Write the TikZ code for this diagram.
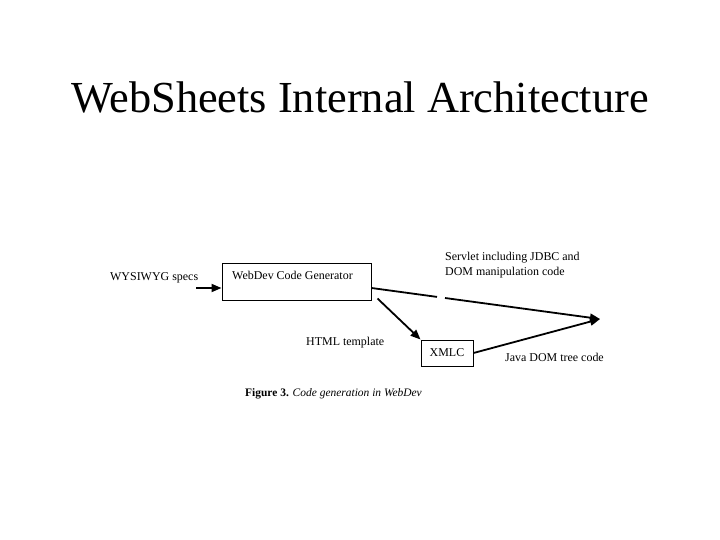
\documentclass[tikz,border=0pt]{standalone}
\usepackage{fontspec}
\setmainfont{Liberation Serif}
\usetikzlibrary{arrows.meta}
\tikzset{
  box/.style={draw, line width=1bp, inner sep=0pt},
  txt/.style={inner sep=0pt, font=\fontsize{12}{16}\selectfont},
  flow/.style={line width=1.8bp},
  arr/.style={flow, -{Triangle[length=10bp,width=8bp]}}
}
\begin{document}
\begin{tikzpicture}[x=1bp,y=-1bp]
\useasboundingbox (0,0) rectangle (720,540);
\node[anchor=base, inner sep=0pt, font=\fontsize{44.5}{50}\selectfont] (title) at (360,113) {WebSheets Internal Architecture};
% boxes
\node[box, minimum width=149bp, minimum height=36bp] (gen) at (296.5,282) {};
\node[txt, anchor=base west] (gentext) at (232,280) {WebDev Code Generator};
\node[box, txt, minimum width=52bp, minimum height=26bp] (xmlc) at (447,353) {XMLC};
% labels
\node[txt, anchor=base west] (specs) at (110,281) {WYSIWYG specs};
\node[txt, anchor=base west] (html) at (306,345) {HTML template};
\node[txt, anchor=base west, align=left] (servlet) at (445,276) {Servlet including JDBC and\\DOM manipulation code};
\node[txt, anchor=base west] (java) at (505,361) {Java DOM tree code};
\node[anchor=base west, inner sep=0pt, font=\fontsize{11.5}{14}\selectfont] (caption) at (245,396) {\textbf{Figure 3.} \textit{Code generation in WebDev}};
% arrows
\coordinate (in) at (196,288);
\coordinate (tip) at (600,319);
\coordinate (gapa) at (437,296.9);
\coordinate (gapb) at (445,298);
\draw[arr] (in) -- (in -| gen.west);
\draw[flow] (gen.east |- in) -- (gapa);
\draw[arr] (gapb) -- (tip);
\draw[arr] ([shift={(6,-2)}]gen.south east) -- (xmlc.north west);
\draw[arr] (xmlc.east) -- (tip);
\end{tikzpicture}
\end{document}
